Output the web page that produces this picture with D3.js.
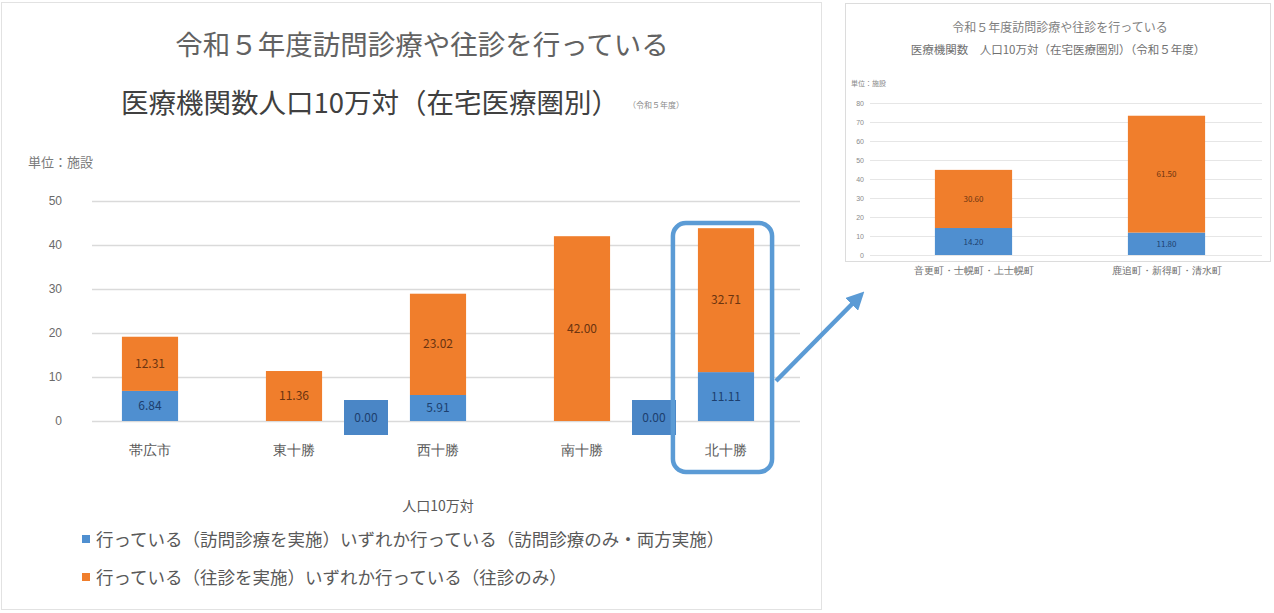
<!DOCTYPE html>
<html lang="ja">
<head>
<meta charset="utf-8">
<script src="https://cdn.jsdelivr.net/npm/d3@7"></script>
<style>
  html, body { margin: 0; padding: 0; background: #ffffff; }
  svg { display: block; font-family: "Noto Sans CJK JP", "Noto Sans", sans-serif; }
</style>
</head>
<body>
<svg id="chart" width="1274" height="613"></svg>
<script>
// 在宅医療圏別の医療機関数（人口10万対）
const categories = ["帯広市", "東十勝", "西十勝", "南十勝", "北十勝"];
const visitValues = [6.84, 0.00, 5.91, 0.00, 11.11];   // 訪問診療のみ・両方実施
const houseCallValues = [12.31, 11.36, 23.02, 42.00, 32.71]; // 往診のみ
const yTicks = [0, 10, 20, 30, 40, 50];
const seriesNames = [
  "行っている（訪問診療を実施）いずれか行っている（訪問診療のみ・両方実施）",
  "行っている（往診を実施）いずれか行っている（往診のみ）"
];

// 北十勝の内訳
const subCategories = ["音更町・士幌町・上士幌町", "鹿追町・新得町・清水町"];
const subVisitValues = [14.2, 11.8];
const subHouseCallValues = [30.6, 61.5];
const subTicks = [0, 10, 20, 30, 40, 50, 60, 70, 80];

const BLUE = "#4f8fd0";
const ORANGE = "#f07e2c";
const HILITE = "#5b9bd5";

const svg = d3.select("#chart");

// ---- 主グラフ ----
svg.append("rect").attr("x", 1.5).attr("y", 2.5).attr("width", 820).attr("height", 607)
  .attr("fill", "#fff").attr("stroke", "#e2e2e2");

svg.append("text").attr("x", 422).attr("y", 55).attr("text-anchor", "middle")
  .attr("font-size", 27.5).attr("fill", "#626262").text("令和５年度訪問診療や往診を行っている");
svg.append("text").attr("x", 121).attr("y", 113)
  .attr("font-size", 27.5).attr("fill", "#404040").text("医療機関数人口10万対（在宅医療圏別）");
svg.append("text").attr("x", 628).attr("y", 108)
  .attr("font-size", 8).attr("fill", "#8a8a8a").text("（令和５年度）");

const x = d3.scaleBand().domain(categories).range([78, 798]).paddingInner(0.61).paddingOuter(0.305);
const y = d3.scaleLinear().domain([0, 50]).range([421, 201]);

svg.append("text").attr("x", 28).attr("y", 167).attr("font-size", 13)
  .attr("fill", "#7a7a7a").text("単位：施設");

const yAxis = d3.axisLeft(y).tickValues(yTicks).tickSize(-(800 - 92)).tickPadding(30);
const gy = svg.append("g").attr("transform", "translate(92,0)").call(yAxis);
gy.select(".domain").remove();
gy.selectAll(".tick line").attr("stroke", "#dadada").attr("stroke-width", 1.5);
gy.selectAll(".tick text").attr("font-size", 12).attr("fill", "#6a6a6a");

const stacked = categories.map((c, i) => ({ c, v: visitValues[i], h: houseCallValues[i] }));

const bars = svg.append("g");
bars.selectAll("rect.visit").data(stacked).join("rect")
  .attr("x", d => x(d.c)).attr("width", x.bandwidth())
  .attr("y", d => y(d.v)).attr("height", d => y(0) - y(d.v))
  .attr("fill", BLUE);
bars.selectAll("rect.house").data(stacked).join("rect")
  .attr("x", d => x(d.c)).attr("width", x.bandwidth())
  .attr("y", d => y(d.v + d.h)).attr("height", d => y(d.v) - y(d.v + d.h))
  .attr("fill", ORANGE);

// データラベル
const fmt = d3.format(".2f");
stacked.forEach(d => {
  const cx = x(d.c) + x.bandwidth() / 2;
  svg.append("text").attr("x", cx).attr("y", (y(d.v) + y(d.v + d.h)) / 2 + 4)
    .attr("text-anchor", "middle").attr("font-size", 12).attr("fill", "#6b3410")
    .text(fmt(d.h));
  if (d.v > 0) {
    svg.append("text").attr("x", cx).attr("y", (y(0) + y(d.v)) / 2 + 4)
      .attr("text-anchor", "middle").attr("font-size", 12).attr("fill", "#1d3f6e")
      .text(fmt(d.v));
  } else {
    const lx = cx + x.step() / 2;
    svg.append("rect").attr("x", lx - 22).attr("y", y(0) - 21).attr("width", 44).attr("height", 35)
      .attr("fill", "#4a86c6");
    svg.append("text").attr("x", lx).attr("y", y(0) + 1)
      .attr("text-anchor", "middle").attr("font-size", 12).attr("fill", "#1d3f6e")
      .text(fmt(d.v));
  }
});

const xAxis = d3.axisBottom(x).tickSize(0).tickPadding(24);
const gx = svg.append("g").attr("transform", `translate(0,${y(0)})`).call(xAxis);
gx.select(".domain").remove();
gx.selectAll(".tick text").attr("font-size", 14).attr("fill", "#595959");

svg.append("text").attr("x", 438).attr("y", 511).attr("text-anchor", "middle")
  .attr("font-size", 14).attr("fill", "#595959").text("人口10万対");

// 凡例
const legend = svg.append("g");
[BLUE, ORANGE].forEach((col, i) => {
  const ly = 540 + i * 38;
  legend.append("rect").attr("x", 82).attr("y", ly - 5).attr("width", 8).attr("height", 8).attr("fill", col);
  legend.append("text").attr("x", 96).attr("y", ly + 6).attr("font-size", 17.5)
    .attr("fill", "#595959").text(seriesNames[i]);
});

// 強調枠と矢印
const hx = x(categories[4]);
svg.append("rect").attr("x", hx - 25).attr("y", 223).attr("width", x.bandwidth() + 43).attr("height", 249)
  .attr("rx", 13).attr("fill", "none").attr("stroke", HILITE).attr("stroke-width", 4.5);

svg.append("defs").append("marker").attr("id", "arrow").attr("viewBox", "0 0 10 10")
  .attr("refX", 5).attr("refY", 5).attr("markerWidth", 4).attr("markerHeight", 4)
  .attr("orient", "auto")
  .append("path").attr("d", "M0,0 L10,5 L0,10 Z").attr("fill", HILITE);
svg.append("line").attr("x1", 776).attr("y1", 381).attr("x2", 858).attr("y2", 298)
  .attr("stroke", HILITE).attr("stroke-width", 4.5).attr("marker-end", "url(#arrow)");

// ---- 北十勝の内訳 ----
const inset = svg.append("g");
inset.append("rect").attr("x", 845.5).attr("y", 3.5).attr("width", 425).attr("height", 258)
  .attr("fill", "#fff").attr("stroke", "#dcdcdc");
inset.append("text").attr("x", 1060).attr("y", 32).attr("text-anchor", "middle")
  .attr("font-size", 12).attr("fill", "#808080").text("令和５年度訪問診療や往診を行っている");
inset.append("text").attr("x", 1058).attr("y", 54).attr("text-anchor", "middle")
  .attr("font-size", 11.5).attr("fill", "#707070").text("医療機関数　人口10万対（在宅医療圏別）（令和５年度）");
inset.append("text").attr("x", 851).attr("y", 86).attr("font-size", 7)
  .attr("fill", "#8a8a8a").text("単位：施設");

const sx = d3.scaleBand().domain(subCategories).range([877, 1263]).paddingInner(0.6).paddingOuter(0.3);
const sy = d3.scaleLinear().domain([0, 90]).range([255, 84]);

const sAxis = d3.axisLeft(sy).tickValues(subTicks).tickSize(-(1262 - 870)).tickPadding(6);
const sgy = inset.append("g").attr("transform", "translate(870,0)").call(sAxis);
sgy.select(".domain").remove();
sgy.selectAll(".tick line").attr("stroke", "#e6e6e6");
sgy.selectAll(".tick text").attr("font-size", 7).attr("fill", "#8a8a8a");

const subStacked = subCategories.map((c, i) => ({ c, v: subVisitValues[i], h: subHouseCallValues[i] }));
inset.selectAll("rect.sv").data(subStacked).join("rect")
  .attr("x", d => sx(d.c)).attr("width", sx.bandwidth())
  .attr("y", d => sy(d.v)).attr("height", d => sy(0) - sy(d.v)).attr("fill", BLUE);
inset.selectAll("rect.sh").data(subStacked).join("rect")
  .attr("x", d => sx(d.c)).attr("width", sx.bandwidth())
  .attr("y", d => sy(d.v + d.h)).attr("height", d => sy(d.v) - sy(d.v + d.h)).attr("fill", ORANGE);
subStacked.forEach(d => {
  const cx = sx(d.c) + sx.bandwidth() / 2;
  inset.append("text").attr("x", cx).attr("y", (sy(d.v) + sy(d.v + d.h)) / 2 + 3)
    .attr("text-anchor", "middle").attr("font-size", 8).attr("fill", "#6b3410").text(fmt(d.h));
  inset.append("text").attr("x", cx).attr("y", (sy(0) + sy(d.v)) / 2 + 3)
    .attr("text-anchor", "middle").attr("font-size", 8).attr("fill", "#1d3f6e").text(fmt(d.v));
});
const sgx = inset.append("g").attr("transform", `translate(0,${sy(0)})`)
  .call(d3.axisBottom(sx).tickSize(0).tickPadding(12));
sgx.select(".domain").remove();
sgx.selectAll(".tick text").attr("font-size", 10).attr("fill", "#707070");
</script>
</body>
</html>
